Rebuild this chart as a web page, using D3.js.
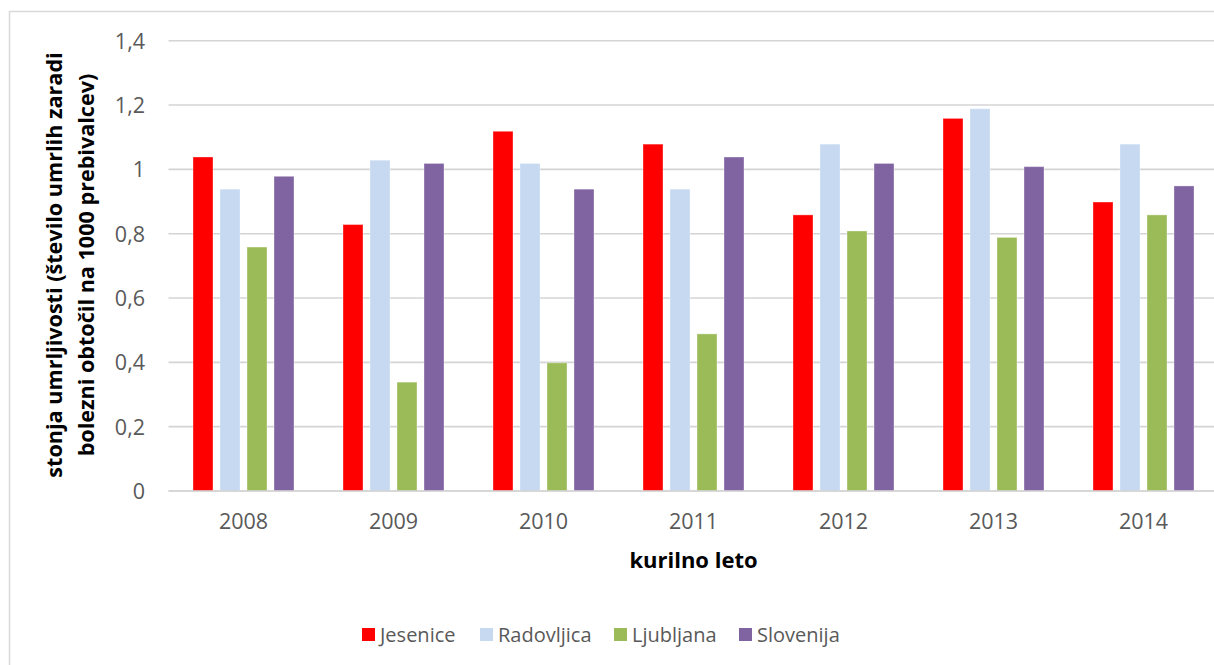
<!DOCTYPE html>
<html>
<head>
<meta charset="utf-8">
<script src="https://cdn.jsdelivr.net/npm/d3@7"></script>
<style>
  html, body { margin: 0; padding: 0; background: #fff; }
  svg { display: block; }
  text { font-family: "Open Sans", "Noto Sans", sans-serif; }
</style>
</head>
<body>
<svg id="chart" width="1214" height="665"></svg>
<script>
// Heating seasons (kurilno leto)
const years = ["2008", "2009", "2010", "2011", "2012", "2013", "2014"];

// Regions shown in the legend
const regions = ["Jesenice", "Radovljica", "Ljubljana", "Slovenija"];
const regionColors = ["#FF0000", "#C6D9F1", "#9BBB59", "#8064A2"];

// Mortality rate per 1000 inhabitants, one array per region
const jesenice   = [1.04, 0.83, 1.12, 1.08, 0.86, 1.16, 0.90];
const radovljica = [0.94, 1.03, 1.02, 0.94, 1.08, 1.19, 1.08];
const ljubljana  = [0.76, 0.34, 0.40, 0.49, 0.81, 0.79, 0.86];
const slovenija  = [0.98, 1.02, 0.94, 1.04, 1.02, 1.01, 0.95];

// Value axis ticks and their labels (decimal comma)
const yTickValues = [0, 0.2, 0.4, 0.6, 0.8, 1.0, 1.2, 1.4];
const yTickLabels = ["0", "0,2", "0,4", "0,6", "0,8", "1", "1,2", "1,4"];

const yTitleLines = [
  "stonja umrljivosti (število umrlih zaradi",
  "bolezni obtočil na 1000 prebivalcev)"
];
const xTitle = "kurilno leto";

const seriesValues = [jesenice, radovljica, ljubljana, slovenija];
const rows = years.map((y, i) => ({
  year: y,
  values: regions.map((r, k) => ({ region: r, value: seriesValues[k][i], color: regionColors[k] }))
}));

const svg = d3.select("#chart");

// outer chart frame
svg.append("rect")
  .attr("x", 9.5).attr("y", 11.5)
  .attr("width", 1230).attr("height", 680)
  .attr("fill", "#fff")
  .attr("stroke", "#D9D9D9").attr("stroke-width", 1.5);

const plot = { left: 168.5, right: 1218.5, top: 40.7, bottom: 491 };

const x0 = d3.scaleBand()
  .domain(years)
  .range([plot.left, plot.right])
  .padding(0);

const x1 = d3.scaleBand()
  .domain(regions)
  .range([0, x0.bandwidth()])
  .paddingInner(6 / 27)
  .paddingOuter(24 / 27);

const y = d3.scaleLinear()
  .domain([0, 1.4])
  .range([plot.bottom, plot.top]);

// gridlines
svg.append("g")
  .selectAll("line")
  .data(yTickValues)
  .join("line")
  .attr("x1", plot.left).attr("x2", plot.right)
  .attr("y1", d => y(d)).attr("y2", d => y(d))
  .attr("stroke", "#D4D4D4").attr("stroke-width", 1.6);

// y tick labels via d3 axis
const yAxis = d3.axisLeft(y)
  .tickValues(yTickValues)
  .tickFormat((d, i) => yTickLabels[i])
  .tickSize(0)
  .tickPadding(0);

const yAxisG = svg.append("g")
  .attr("transform", "translate(145,0)")
  .call(yAxis);
yAxisG.select(".domain").remove();
yAxisG.selectAll("text")
  .attr("font-family", "Open Sans, sans-serif")
  .attr("font-size", 21.5)
  .attr("fill", "#595959")
  .attr("dy", "0.35em");

// bars
const groups = svg.append("g")
  .selectAll("g")
  .data(rows)
  .join("g")
  .attr("transform", d => `translate(${x0(d.year)},0)`);

groups.selectAll("rect")
  .data(d => d.values)
  .join("rect")
  .attr("x", d => x1(d.region) + 0.5)
  .attr("width", x1.bandwidth() - 1)
  .attr("y", d => y(d.value) + 0.5)
  .attr("height", d => y(0) - y(d.value) - 0.5)
  .attr("fill", d => d.color)
  .attr("stroke", "#fff").attr("stroke-opacity", 0.35).attr("stroke-width", 1);

// baseline
svg.append("line")
  .attr("x1", plot.left).attr("x2", plot.right)
  .attr("y1", y(0)).attr("y2", y(0))
  .attr("stroke", "#D4D4D4").attr("stroke-width", 1.6);

// x category labels via d3 axis
const xAxis = d3.axisBottom(x0).tickSize(0).tickPadding(0);
const xAxisG = svg.append("g")
  .attr("transform", `translate(0,${y(0)})`)
  .call(xAxis);
xAxisG.select(".domain").remove();
xAxisG.selectAll("text")
  .attr("font-family", "Open Sans, sans-serif")
  .attr("font-size", 21.5)
  .attr("fill", "#595959")
  .attr("dy", null)
  .attr("y", 38);

// axis titles
svg.append("text")
  .attr("x", (plot.left + plot.right) / 2)
  .attr("y", 568)
  .attr("text-anchor", "middle")
  .attr("font-size", 22)
  .attr("font-weight", "bold")
  .attr("fill", "#000")
  .text(xTitle);

const yTitle = svg.append("text")
  .attr("transform", "translate(0,265) rotate(-90)")
  .attr("text-anchor", "middle")
  .attr("font-size", 21.6)
  .attr("font-weight", "bold")
  .attr("fill", "#000");
yTitle.selectAll("tspan")
  .data(yTitleLines)
  .join("tspan")
  .attr("x", 0)
  .attr("y", (d, i) => 62 + i * 32)
  .text(d => d);

// legend
const legendX = [362, 480, 614, 739];
const legend = svg.append("g")
  .selectAll("g")
  .data(regions)
  .join("g")
  .attr("transform", (d, i) => `translate(${legendX[i]},628)`);
legend.append("rect")
  .attr("width", 13).attr("height", 13)
  .attr("fill", (d, i) => regionColors[i]);
legend.append("text")
  .attr("x", 18).attr("y", 14)
  .attr("font-size", 20)
  .attr("fill", "#595959")
  .text(d => d);
</script>
</body>
</html>
